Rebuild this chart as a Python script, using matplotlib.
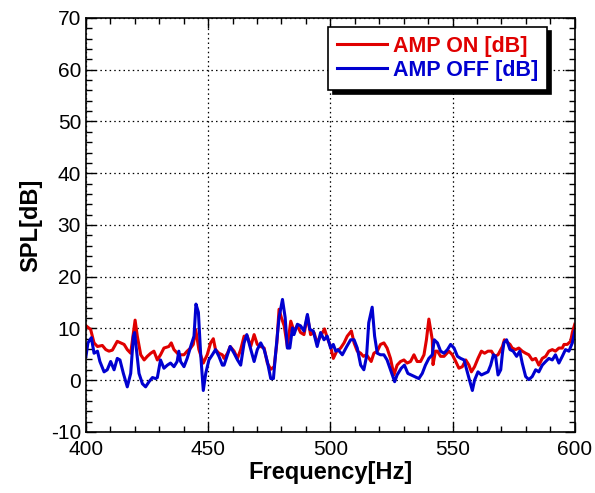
import matplotlib
matplotlib.use('Agg')
import matplotlib.pyplot as plt
from matplotlib.ticker import MultipleLocator

plt.rcParams['font.family'] = ['Liberation Sans', 'DejaVu Sans']
plt.rcParams['axes.unicode_minus'] = False

# AMP ON trace (red)
freq_on = [400.0, 401.9, 403.3, 404.7, 406.7, 408.1, 409.4, 410.8, 412.8, 414.2,
           415.6, 416.9, 418.3, 419.4, 420.1, 421.0, 422.4, 423.8, 425.1, 426.5,
           427.8, 429.2, 430.5, 431.9, 433.9, 434.9, 436.0, 438.0, 440.1, 441.4,
           442.8, 443.9, 444.9, 446.2, 448.0, 449.6, 451.0, 452.1, 453.0, 454.4,
           455.8, 456.5, 457.9, 459.0, 460.6, 462.0, 463.3, 464.7, 466.0, 467.4,
           468.8, 470.1, 471.5, 472.9, 474.2, 475.6, 477.0, 478.1, 479.0, 480.0,
           481.1, 482.4, 483.8, 485.1, 486.5, 487.8, 489.2, 490.6, 491.9, 493.3,
           494.6, 496.0, 497.6, 498.7, 500.1, 501.2, 502.6, 504.2, 505.6, 506.9,
           508.6, 509.7, 511.0, 512.4, 513.5, 514.8, 516.7, 517.8, 519.2, 520.5,
           521.9, 523.2, 524.6, 526.0, 527.3, 528.7, 530.1, 531.4, 532.8, 534.2,
           535.5, 536.9, 538.3, 539.3, 540.3, 541.7, 542.0, 543.0, 543.8, 545.1,
           546.5, 548.5, 549.9, 551.3, 552.6, 554.0, 555.4, 556.7, 557.7, 559.0,
           560.4, 561.8, 563.1, 564.5, 565.9, 567.2, 568.6, 570.4, 571.2, 573.5,
           574.4, 575.8, 577.1, 578.5, 579.9, 581.2, 582.6, 584.0, 585.3, 586.7,
           588.1, 589.4, 590.8, 592.1, 593.5, 594.9, 595.6, 596.9, 598.3, 599.0,
           600.0]
spl_on = [10.5, 9.8, 7.2, 6.5, 6.7, 5.9, 5.6, 5.8, 7.5, 7.2,
          6.9, 5.9, 5.2, 9.2, 11.6, 8.5, 4.9, 3.9, 4.6, 5.2,
          5.6, 3.9, 4.9, 6.2, 6.5, 7.2, 5.9, 4.9, 4.9, 5.6,
          6.2, 6.9, 9.8, 5.9, 3.3, 4.9, 7.2, 8.0, 5.9, 5.2,
          4.9, 4.2, 5.2, 6.5, 5.6, 4.2, 5.9, 8.5, 8.5, 6.5,
          8.8, 6.9, 6.5, 6.2, 3.3, 2.1, 2.6, 7.2, 13.7, 12.0,
          10.5, 6.5, 11.4, 9.5, 10.5, 9.2, 8.8, 12.4, 8.8, 9.2,
          7.2, 8.5, 9.9, 8.2, 6.5, 4.2, 5.6, 6.2, 7.2, 8.5,
          9.5, 7.2, 5.6, 5.2, 4.6, 4.9, 3.6, 5.2, 5.6, 6.9,
          7.2, 6.2, 4.2, 1.0, 2.9, 3.6, 3.9, 3.3, 3.6, 4.9,
          3.6, 3.6, 4.9, 7.8, 11.8, 7.8, 3.0, 5.6, 5.6, 4.6,
          4.6, 5.6, 4.9, 3.6, 2.3, 2.6, 3.9, 2.9, 1.6, 2.6,
          4.2, 5.6, 5.2, 5.6, 5.6, 4.6, 4.9, 6.5, 7.8, 6.9,
          6.2, 5.9, 6.2, 5.6, 5.2, 4.9, 3.9, 4.2, 2.9, 4.2,
          4.6, 5.6, 5.9, 5.6, 6.2, 6.2, 6.9, 6.9, 7.5, 9.2,
          10.8]

# AMP OFF trace (blue)
freq_off = [400.0, 400.8, 402.2, 403.3, 404.7, 405.7, 407.4, 408.7, 410.1, 411.5,
            412.8, 413.9, 415.3, 416.9, 418.3, 419.4, 419.9, 420.8, 421.7, 423.1,
            424.4, 425.8, 427.2, 428.5, 429.2, 430.5, 431.9, 433.3, 434.6, 436.0,
            437.3, 438.0, 438.7, 440.1, 441.4, 443.1, 444.2, 445.0, 446.0, 446.9,
            448.0, 449.0, 450.3, 451.7, 453.0, 454.4, 455.8, 456.5, 457.9, 459.0,
            460.6, 462.0, 463.3, 464.7, 465.8, 467.1, 468.8, 470.1, 471.5, 472.9,
            474.2, 475.6, 476.7, 477.6, 479.0, 480.4, 481.5, 482.4, 483.4, 484.5,
            485.1, 486.5, 487.8, 489.2, 490.6, 491.6, 493.0, 494.6, 496.0, 497.4,
            498.7, 500.1, 501.2, 502.2, 503.1, 504.9, 506.7, 508.3, 509.7, 511.0,
            512.4, 513.7, 514.8, 515.7, 517.1, 518.1, 519.2, 520.5, 521.9, 523.2,
            524.6, 526.3, 527.3, 529.0, 530.3, 531.7, 533.1, 534.4, 536.2, 537.6,
            538.9, 540.3, 541.7, 542.5, 543.8, 545.1, 546.5, 547.9, 549.2, 550.6,
            552.0, 553.3, 554.7, 556.0, 557.1, 558.1, 559.0, 560.4, 561.8, 563.1,
            564.5, 565.6, 566.7, 567.6, 568.6, 569.7, 570.4, 571.0, 572.1, 573.5,
            574.8, 576.2, 577.5, 578.5, 579.9, 581.2, 582.6, 584.0, 585.3, 586.7,
            588.1, 589.4, 590.8, 592.1, 593.5, 594.9, 596.2, 597.6, 599.0, 600.0]
spl_off = [4.6, 7.2, 8.2, 5.2, 5.6, 3.6, 1.6, 2.0, 3.6, 2.0,
           4.2, 3.9, 1.3, -1.3, 1.3, 8.5, 9.2, 5.2, 1.3, -0.7,
           -1.3, -0.3, 0.5, 0.3, 0.5, 3.9, 2.3, 2.9, 3.3, 2.6,
           3.6, 5.6, 3.6, 2.6, 4.2, 6.9, 8.5, 14.7, 13.1, 5.2,
           -2.0, 1.3, 3.9, 4.9, 5.9, 4.6, 2.9, 2.9, 4.9, 6.5,
           5.2, 3.9, 2.9, 7.2, 8.8, 6.5, 3.6, 5.9, 7.2, 5.9,
           3.6, 0.3, 0.3, 5.2, 12.1, 15.6, 12.1, 6.2, 6.2, 10.1,
           8.8, 10.8, 10.5, 9.5, 12.7, 9.8, 9.5, 6.5, 9.2, 7.8,
           8.5, 6.2, 6.9, 5.6, 5.9, 4.9, 6.5, 7.8, 7.8, 6.2,
           2.9, 2.0, 4.6, 11.1, 14.1, 8.5, 5.2, 4.9, 4.9, 3.9,
           2.0, -0.3, 1.0, 2.3, 2.9, 1.3, 1.0, 0.7, 0.3, 1.3,
           2.9, 4.2, 4.9, 7.8, 7.2, 5.6, 5.2, 5.9, 6.9, 6.2,
           4.6, 4.2, 3.9, 1.6, -0.3, -2.0, 0.0, 1.6, 1.0, 1.3,
           1.6, 2.9, 4.9, 4.6, 1.0, 2.0, 5.2, 7.2, 7.8, 5.9,
           5.6, 4.6, 5.6, 3.3, 0.7, 0.1, 0.7, 2.0, 1.6, 2.9,
           3.6, 4.2, 3.9, 4.9, 3.3, 4.6, 5.9, 5.6, 7.2, 9.5]

fig = plt.figure(figsize=(5.95, 4.93), dpi=100)
ax = fig.add_axes([0.1445, 0.124, 0.8215, 0.8395])

ax.plot(freq_on, spl_on, color='#e00000', lw=2.2, label='AMP ON [dB]')
ax.plot(freq_off, spl_off, color='#0000d0', lw=2.2, label='AMP OFF [dB]')

ax.set_xlim(400, 600)
ax.set_ylim(-10, 70)
ax.xaxis.set_major_locator(MultipleLocator(50))
ax.xaxis.set_minor_locator(MultipleLocator(10))
ax.yaxis.set_major_locator(MultipleLocator(10))
ax.yaxis.set_minor_locator(MultipleLocator(2))
ax.tick_params(which='both', direction='in', top=True, right=True, labelsize=15)
ax.tick_params(which='major', length=7, width=1)
ax.tick_params(which='minor', length=4, width=1)
ax.tick_params(axis='x', which='major', pad=6)
ax.grid(True, which='major', color='black', linestyle=(0, (1.2, 2.5)), lw=0.9)
for s in ax.spines.values():
    s.set_linewidth(1.2)

ax.set_xlabel('Frequency[Hz]', fontsize=17, fontweight='bold', labelpad=1)
ax.set_ylabel('SPL[dB]', fontsize=17, fontweight='bold', labelpad=6)

leg = ax.legend(loc='upper right', bbox_to_anchor=(0.943, 0.978), borderaxespad=0,
                fancybox=False, edgecolor='black', framealpha=1,
                shadow={'color': 'black', 'alpha': 1, 'ox': 3, 'oy': -3},
                labelcolor='linecolor', handlelength=2.3, handletextpad=0.3,
                labelspacing=0.15, borderpad=0.4,
                prop={'size': 15.5, 'weight': 'bold'})
leg.get_frame().set_linewidth(1.2)

fig.savefig('out.png', dpi=100)
